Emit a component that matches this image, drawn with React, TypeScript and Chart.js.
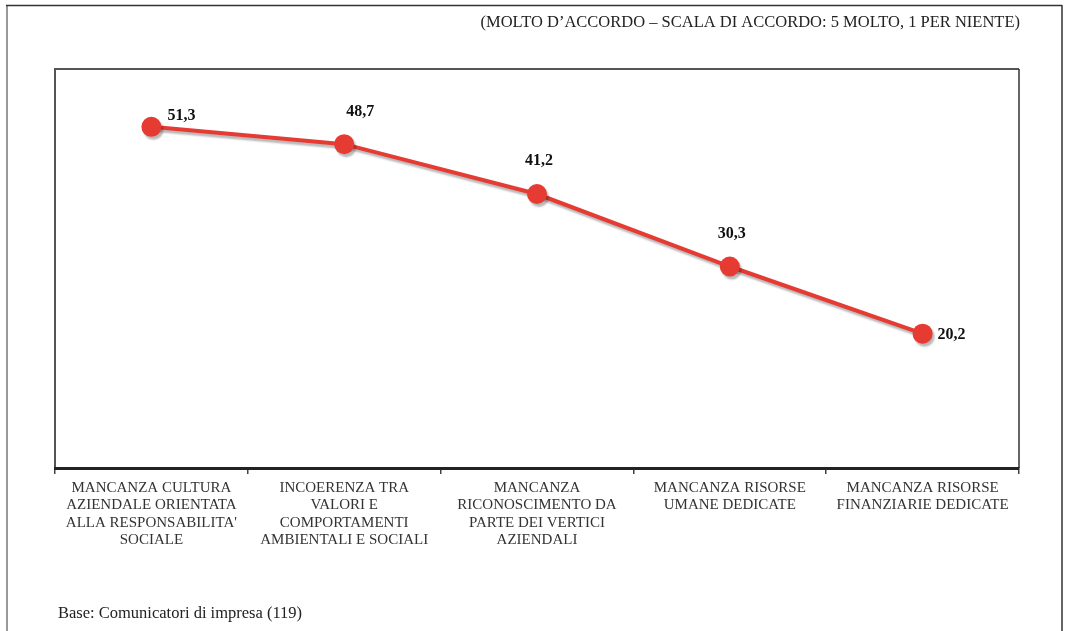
import React, { useEffect, useRef } from "react";
import { Chart, registerables } from "chart.js";

Chart.register(...registerables);

const categories: string[][] = [
  ["MANCANZA CULTURA", "AZIENDALE ORIENTATA", "ALLA RESPONSABILITA'", "SOCIALE"],
  ["INCOERENZA TRA", "VALORI E", "COMPORTAMENTI", "AMBIENTALI E SOCIALI"],
  ["MANCANZA", "RICONOSCIMENTO DA", "PARTE DEI VERTICI", "AZIENDALI"],
  ["MANCANZA RISORSE", "UMANE DEDICATE"],
  ["MANCANZA RISORSE", "FINANZIARIE DEDICATE"],
];
const values: number[] = [51.3, 48.7, 41.2, 30.3, 20.2];
const labelPlacement: string[] = ["right-up", "above-right", "above", "above", "right"];

const titleText = "(MOLTO D\u2019ACCORDO \u2013 SCALA DI ACCORDO: 5 MOLTO, 1 PER NIENTE)";
const footerText = "Base: Comunicatori di impresa (119)";

const SERIF = "'Liberation Serif', 'Times New Roman', serif";
const RED = "#E63B33";

const framePlugin = {
  id: "frame",
  beforeDraw(chart: any) {
    const ctx = chart.ctx;
    ctx.save();
    ctx.strokeStyle = "#999";
    ctx.lineWidth = 2;
    ctx.beginPath();
    ctx.moveTo(7, 5);
    ctx.lineTo(7, 640);
    ctx.stroke();
    ctx.strokeStyle = "#333";
    ctx.lineWidth = 1.5;
    ctx.beginPath();
    ctx.moveTo(6, 5.5);
    ctx.lineTo(1062, 5.5);
    ctx.moveTo(1062, 5);
    ctx.lineTo(1062, 640);
    ctx.stroke();
    ctx.fillStyle = "#222";
    ctx.font = `16.5px ${SERIF}`;
    ctx.textAlign = "right";
    ctx.textBaseline = "middle";
    ctx.fillText(titleText, 1020, 23);
    ctx.textAlign = "left";
    ctx.fillText(footerText, 58, 614);
    const a = chart.chartArea;
    ctx.strokeStyle = "#555";
    ctx.lineWidth = 2;
    ctx.beginPath();
    ctx.moveTo(a.left, a.bottom);
    ctx.lineTo(a.left, a.top);
    ctx.lineTo(a.right, a.top);
    ctx.stroke();
    ctx.strokeStyle = "#333";
    ctx.lineWidth = 1.5;
    ctx.beginPath();
    ctx.moveTo(a.right, a.top);
    ctx.lineTo(a.right, a.bottom);
    ctx.stroke();
    ctx.restore();
  },
  beforeDatasetDraw(chart: any) {
    const ctx = chart.ctx;
    ctx.save();
    ctx.shadowColor = "rgba(0,0,0,0.28)";
    ctx.shadowOffsetX = 2;
    ctx.shadowOffsetY = 3;
    ctx.shadowBlur = 2;
  },
  afterDatasetDraw(chart: any) {
    chart.ctx.restore();
  },
  afterDatasetsDraw(chart: any) {
    const ctx = chart.ctx;
    const meta = chart.getDatasetMeta(0);
    ctx.save();
    ctx.fillStyle = "#111";
    ctx.font = `bold 16px ${SERIF}`;
    ctx.textBaseline = "middle";
    meta.data.forEach((pt: any, i: number) => {
      const txt = values[i].toFixed(1).replace(".", ",");
      const p = labelPlacement[i];
      let x = pt.x;
      let y = pt.y;
      if (p === "right") {
        ctx.textAlign = "left";
        x += 15;
        y += 1;
      } else if (p === "right-up") {
        ctx.textAlign = "left";
        x += 16;
        y -= 11;
      } else if (p === "above-right") {
        ctx.textAlign = "center";
        x += 16;
        y -= 32;
      } else {
        ctx.textAlign = "center";
        x += 2;
        y -= 33;
      }
      ctx.fillText(txt, x, y);
    });
    ctx.restore();
  },
};

export default function App() {
  const ref = useRef<HTMLCanvasElement | null>(null);
  useEffect(() => {
    document.body.style.margin = "0";
    if (!ref.current) return;
    const chart = new Chart(ref.current, {
      type: "line",
      data: {
        labels: categories,
        datasets: [
          {
            data: values,
            borderColor: RED,
            borderWidth: 4,
            backgroundColor: RED,
            pointBackgroundColor: RED,
            pointBorderWidth: 0,
            pointRadius: 10,
            tension: 0,
            fill: false,
          },
        ],
      },
      options: {
        animation: false,
        responsive: false,
        layout: { padding: { left: 55, right: 46, top: 69, bottom: 0 } },
        plugins: {
          legend: { display: false },
          tooltip: { enabled: false },
          title: { display: false },
        },
        scales: {
          x: {
            offset: true,
            grid: {
              offset: true,
              drawOnChartArea: false,
              tickLength: 6,
              color: "#444",
              lineWidth: 1.5,
            },
            border: { color: "#222", width: 3 },
            ticks: {
              color: "#333",
              font: { family: SERIF, size: 15, lineHeight: 1.167 },
              padding: 5,
              maxRotation: 0,
              autoSkip: false,
            },
            afterFit(scale: any) {
              scale.height = 163;
            },
          },
          y: {
            display: false,
            min: 0,
            max: 60,
          },
        },
      },
      plugins: [framePlugin],
    });
    return () => chart.destroy();
  }, []);
  return (
    <div style={{ width: 1065, height: 631, position: "relative" }}>
      <canvas ref={ref} width={1065} height={631} />
    </div>
  );
}
